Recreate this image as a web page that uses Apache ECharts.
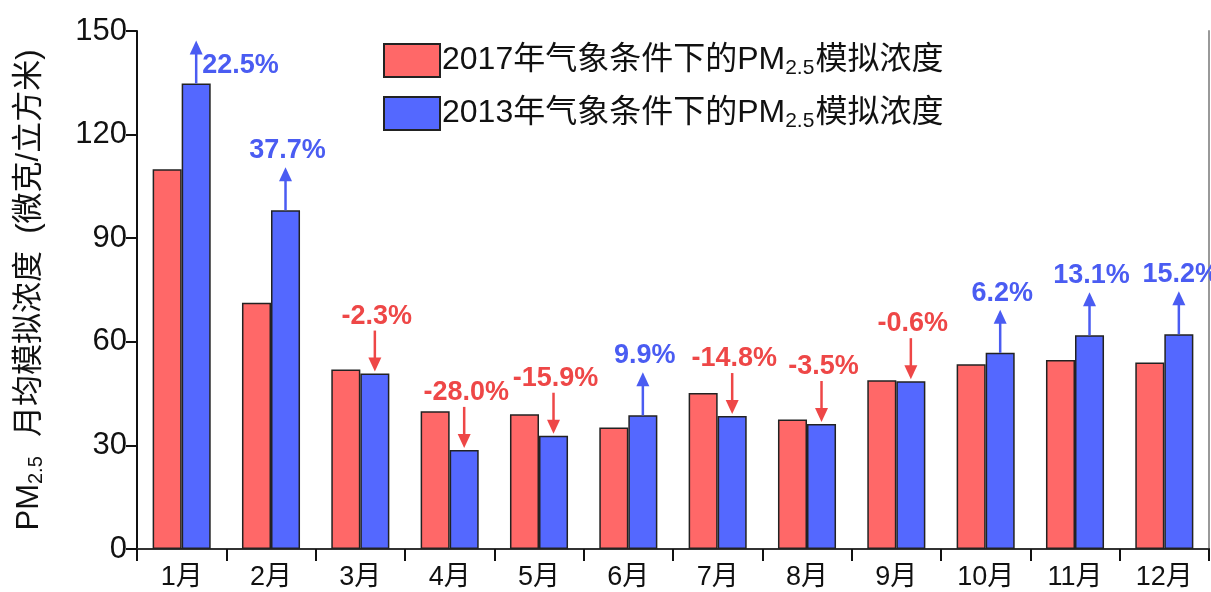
<!DOCTYPE html>
<html>
<head>
<meta charset="utf-8">
<script src="https://cdn.jsdelivr.net/npm/echarts@6/dist/echarts.min.js"></script>
<style>
  html, body { margin: 0; padding: 0; background: #fff; }
  #chart { width: 1211px; height: 592px; }
</style>
</head>
<body>
<div id="chart"></div>
<script>
// Monthly simulated PM2.5 concentration (μg/m³) under two meteorological years
const months = ['1月', '2月', '3月', '4月', '5月', '6月', '7月', '8月', '9月', '10月', '11月', '12月'];
const pm2017 = [110.0, 71.3, 52.0, 39.9, 39.0, 35.2, 45.2, 37.5, 48.9, 53.5, 54.7, 54.0];
const pm2013 = [134.8, 98.1, 50.8, 28.7, 32.8, 38.7, 38.5, 36.2, 48.6, 56.8, 61.9, 62.2];
// relative change of 2013-weather concentration vs 2017-weather (%)
const pctChange = [22.5, 37.7, -2.3, -28.0, -15.9, 9.9, -14.8, -3.5, -0.6, 6.2, 13.1, 15.2];
const yTicks = { min: 0, max: 150, interval: 30 };

const NAME_2017 = '2017年气象条件下的PM2.5模拟浓度';
const NAME_2013 = '2013年气象条件下的PM2.5模拟浓度';

const FONT = '"Liberation Sans", Arial, "Noto Sans CJK SC", sans-serif';
const RED_BAR = '#FF6868';
const BLUE_BAR = '#5468FF';
const RED_TXT = '#EE4747';
const BLUE_TXT = '#4A5CF2';
const GRID_TOP = 31;
const BAR_GAP = 0.35;

const chart = echarts.init(document.getElementById('chart'), null, { renderer: 'canvas' });

function arrowItem(params, api) {
  const i = api.value(0);
  const v = api.value(1);
  const p = api.value(2);
  const c = api.coord([i, v]);
  const band = api.size([1, 0])[0];
  const x = c[0] + band * (1 - BAR_GAP) / 4;
  const top = c[1];
  const up = p > 0;
  const color = up ? BLUE_TXT : RED_TXT;
  const len = 43, head = 14, hw = 6.5;
  const text = p.toFixed(1) + '%';
  const textStyle = {
    text: text, fill: color, font: 'bold 27px ' + FONT
  };
  const children = [];
  if (up) {
    const tip = top - len;
    children.push({ type: 'line', shape: { x1: x, y1: top, x2: x, y2: tip + head - 1 },
      style: { stroke: color, lineWidth: 2.5 } });
    children.push({ type: 'polygon', shape: { points: [[x, tip], [x - hw, tip + head], [x + hw, tip + head]] },
      style: { fill: color } });
    if (tip - 30 < GRID_TOP) {
      children.push({ type: 'text', x: x + 6, y: top - 18,
        style: Object.assign({}, textStyle, { textAlign: 'left', textVerticalAlign: 'middle' }) });
    } else {
      children.push({ type: 'text', x: x + 2, y: tip - 3,
        style: Object.assign({}, textStyle, { textAlign: 'center', textVerticalAlign: 'bottom' }) });
    }
  } else {
    const tip = top - 2;
    const tail = tip - len + 2;
    children.push({ type: 'line', shape: { x1: x, y1: tail, x2: x, y2: tip - head + 1 },
      style: { stroke: color, lineWidth: 2.5 } });
    children.push({ type: 'polygon', shape: { points: [[x, tip], [x - hw, tip - head], [x + hw, tip - head]] },
      style: { fill: color } });
    children.push({ type: 'text', x: x + 2, y: tail - 1,
      style: Object.assign({}, textStyle, { textAlign: 'center', textVerticalAlign: 'bottom' }) });
  }
  return { type: 'group', children: children };
}

const arrowData = months.map((m, i) => [i, pm2013[i], pctChange[i]]);

const legendRich = {
  t: { fontSize: 32, fontFamily: FONT, color: '#111', verticalAlign: 'middle', lineHeight: 36 },
  s: { fontSize: 21, fontFamily: FONT, color: '#111', verticalAlign: 'middle', lineHeight: 22, padding: [16, 1, 0, 0] }
};

chart.setOption({
  animation: false,
  backgroundColor: '#fff',
  textStyle: { fontFamily: FONT },
  grid: { left: 137, right: 2, top: GRID_TOP, bottom: 43 },
  legend: {
    data: [NAME_2017, NAME_2013],
    orient: 'vertical',
    left: 378,
    top: 37,
    itemWidth: 56,
    itemHeight: 33,
    itemGap: 16,
    icon: 'rect',
    formatter: function (name) {
      const year = name.slice(0, 4);
      return '{t|' + year + '年气象条件下的PM}{s|2.5}{t|模拟浓度}';
    },
    textStyle: { rich: legendRich, padding: [0, 0, 0, -3] }
  },
  xAxis: [{
    type: 'category',
    data: months,
    axisLine: { lineStyle: { color: '#111', width: 2 } },
    axisTick: { show: true, length: 12, lineStyle: { color: '#111', width: 2 } },
    axisLabel: { fontSize: 27, color: '#111', margin: 15, fontFamily: FONT }
  }, {
    type: 'category',
    data: months,
    position: 'top',
    axisLine: { lineStyle: { color: '#333', width: 2 } },
    axisTick: { show: false },
    axisLabel: { show: false }
  }],
  yAxis: [{
    type: 'value',
    min: yTicks.min,
    max: yTicks.max,
    interval: yTicks.interval,
    splitLine: { show: false },
    axisLine: { show: true, lineStyle: { color: '#111', width: 2 } },
    axisTick: { show: true, length: 11, lineStyle: { color: '#111', width: 2 } },
    axisLabel: { fontSize: 31, color: '#111', margin: 10, fontFamily: FONT },
    name: '{t|PM}{s|2.5}{t|  月均模拟浓度  (微克/立方米)}',
    nameLocation: 'middle',
    nameRotate: 90,
    nameGap: 91,
    nameTextStyle: {
      rich: {
        t: { fontSize: 31, fontFamily: FONT, color: '#111', verticalAlign: 'middle', lineHeight: 34 },
        s: { fontSize: 20, fontFamily: FONT, color: '#111', verticalAlign: 'middle', lineHeight: 22, padding: [15, 2, 0, 0] }
      }
    }
  }, {
    type: 'value',
    position: 'right',
    min: yTicks.min,
    max: yTicks.max,
    interval: yTicks.interval,
    splitLine: { show: false },
    axisLine: { show: true, lineStyle: { color: '#999', width: 2 } },
    axisTick: { show: false },
    axisLabel: { show: false }
  }],
  series: [{
    name: NAME_2017,
    type: 'bar',
    data: pm2017,
    barGap: '0%',
    barCategoryGap: (BAR_GAP * 100) + '%',
    itemStyle: { color: RED_BAR, borderColor: '#222', borderWidth: 1.5 }
  }, {
    name: NAME_2013,
    type: 'bar',
    data: pm2013,
    barGap: '0%',
    barCategoryGap: (BAR_GAP * 100) + '%',
    itemStyle: { color: BLUE_BAR, borderColor: '#222', borderWidth: 1.5 }
  }, {
    name: 'change',
    type: 'custom',
    renderItem: arrowItem,
    data: arrowData,
    encode: { x: 0, y: 1 },
    clip: false,
    silent: true,
    z: 5
  }]
});
</script>
</body>
</html>
